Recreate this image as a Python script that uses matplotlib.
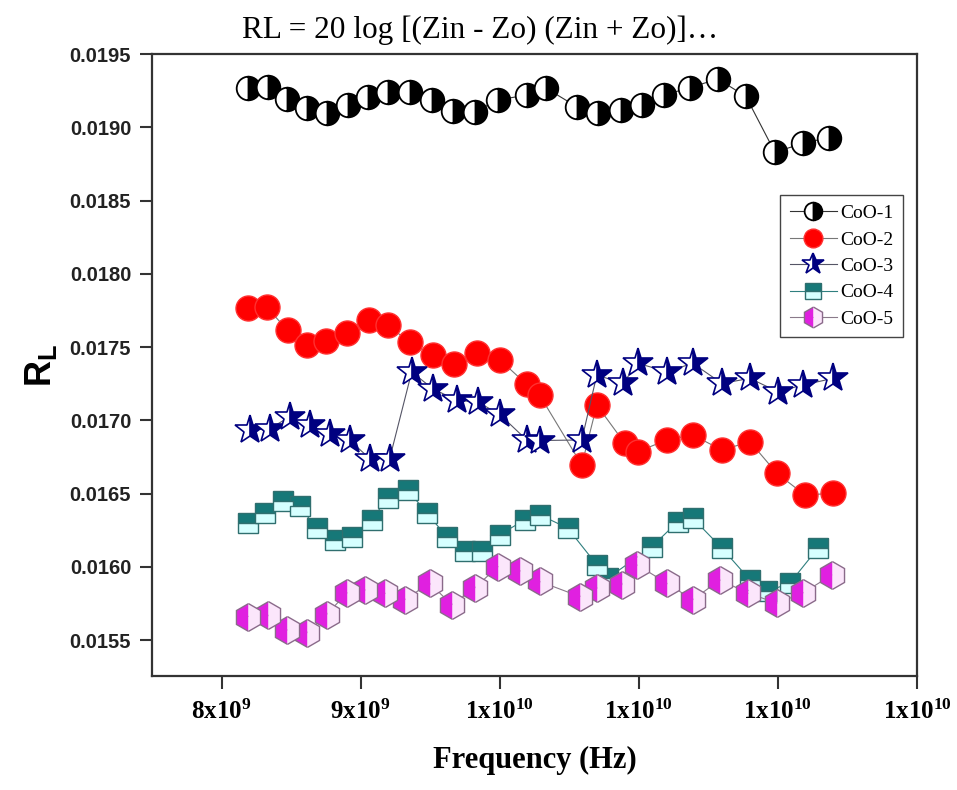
import matplotlib
matplotlib.use("Agg")
import matplotlib.pyplot as plt
from matplotlib.ticker import FixedLocator, FixedFormatter

plt.rcParams['mathtext.fontset'] = 'custom'
plt.rcParams['mathtext.bf'] = 'Liberation Serif:bold'
plt.rcParams['mathtext.sf'] = 'Liberation Sans:bold'

# frequency in GHz
f1 = [8.187, 8.331, 8.468, 8.612, 8.755, 8.906, 9.050, 9.194, 9.353, 9.511, 9.662, 9.820, 9.986,
      10.194, 10.331, 10.554, 10.705, 10.871, 11.022, 11.180, 11.367, 11.568, 11.770, 11.978, 12.180, 12.367]
rl1 = [0.019268, 0.019275, 0.019193, 0.019132, 0.019098, 0.019152, 0.019207, 0.019241, 0.019241,
       0.019186, 0.019111, 0.019104, 0.019186, 0.019220, 0.019268, 0.019140, 0.019100, 0.019120,
       0.019150, 0.019220, 0.019270, 0.019330, 0.019210, 0.018830, 0.018890, 0.018930]

f2 = [8.187, 8.324, 8.475, 8.612, 8.748, 8.899, 9.058, 9.194, 9.353, 9.518, 9.669, 9.835, 10.0,
      10.194, 10.288, 10.590, 10.698, 10.899, 10.993, 11.201, 11.388, 11.597, 11.799, 11.993, 12.194, 12.396]
rl2 = [0.017768, 0.017773, 0.017614, 0.017511, 0.017541, 0.017598, 0.017686, 0.017648, 0.017534,
       0.017443, 0.017386, 0.017459, 0.017414, 0.017245, 0.017170, 0.016695, 0.017104, 0.016843,
       0.016786, 0.016866, 0.016900, 0.016797, 0.016854, 0.016638, 0.016490, 0.016502]

f3 = [8.201, 8.345, 8.489, 8.633, 8.777, 8.921, 9.065, 9.209, 9.367, 9.518, 9.691, 9.842, 10.0,
      10.194, 10.288, 10.590, 10.698, 10.885, 10.993, 11.201, 11.388, 11.597, 11.799, 12.0, 12.180, 12.396]
rl3 = [0.016932, 0.016943, 0.017023, 0.016966, 0.016909, 0.016864, 0.016739, 0.016739, 0.017330,
       0.017216, 0.017136, 0.017125, 0.017040, 0.016866, 0.016862, 0.016866, 0.017309, 0.017252,
       0.017389, 0.017332, 0.017389, 0.017252, 0.017286, 0.017195, 0.017241, 0.017286]

f4 = [8.187, 8.309, 8.439, 8.561, 8.683, 8.813, 8.935, 9.079, 9.194, 9.338, 9.475, 9.619, 9.748, 9.871,
      10.0, 10.180, 10.288, 10.489, 10.698, 10.777, 11.094, 11.281, 11.388, 11.597, 11.799, 11.921, 12.086, 12.288]
rl4 = [0.016299, 0.016367, 0.016446, 0.016412, 0.016265, 0.016185, 0.016207, 0.016321, 0.016469,
       0.016526, 0.016367, 0.016207, 0.016105, 0.016105, 0.016219, 0.016321, 0.016355, 0.016264,
       0.016014, 0.015923, 0.016138, 0.016309, 0.016332, 0.016128, 0.015911, 0.015832, 0.015889, 0.016128]

f5 = [8.187, 8.331, 8.468, 8.612, 8.755, 8.899, 9.029, 9.173, 9.317, 9.496, 9.655, 9.820, 9.986,
      10.144, 10.288, 10.576, 10.698, 10.878, 10.986, 11.201, 11.388, 11.583, 11.784, 11.993, 12.180, 12.388]
rl5 = [0.015661, 0.015673, 0.015570, 0.015548, 0.015673, 0.015821, 0.015843, 0.015821, 0.015775,
       0.015889, 0.015741, 0.015855, 0.016002, 0.015975, 0.015900, 0.015797, 0.015855, 0.015877,
       0.016014, 0.015889, 0.015775, 0.015911, 0.015821, 0.015752, 0.015821, 0.015945]

labels = ['CoO-1', 'CoO-2', 'CoO-3', 'CoO-4', 'CoO-5']
xticks = [8e9, 9e9, 1e10, 1.1e10, 1.2e10, 1.3e10]
xticklabels = [r'$\mathbf{8x10^{9}}$', r'$\mathbf{9x10^{9}}$', r'$\mathbf{1x10^{10}}$',
               r'$\mathbf{1x10^{10}}$', r'$\mathbf{1x10^{10}}$', r'$\mathbf{1x10^{10}}$']
yticks = [0.0155, 0.0160, 0.0165, 0.0170, 0.0175, 0.0180, 0.0185, 0.0190, 0.0195]

fig = plt.figure(figsize=(9.57, 7.9), dpi=100)
ax = fig.add_axes([152/957, 1 - 676/790, 765/957, 622/790])

def hz(f):
    return [v * 1e9 for v in f]

ax.plot(hz(f1), rl1, '-', color='#333333', lw=0.8, marker='o', ms=17, fillstyle='right',
        mfc='black', mfcalt='white', mec='black', mew=1.3, label=labels[0])
ax.plot(hz(f2), rl2, '-', color='#777777', lw=0.8, marker='o', ms=18,
        mfc='#ff0000', mec='#ff3030', mew=1.0, label=labels[1])
ax.plot(hz(f3), rl3, '-', color='#555566', lw=0.8, marker='*', ms=22, fillstyle='right',
        mfc='#000080', mfcalt='white', mec='#000080', mew=1.2, label=labels[2])
ax.plot(hz(f4), rl4, '-', color='#2f7f7f', lw=0.8, marker='s', ms=15, fillstyle='top',
        mfc='#167878', mfcalt='#d6ffff', mec='#2f6f6f', mew=1.0, label=labels[3])
ax.plot(hz(f5), rl5, '-', color='#8a7a8a', lw=0.8, marker='h', ms=20, fillstyle='left',
        mfc='#e020e0', mfcalt='#fbe6fb', mec='#8a6a8a', mew=1.0, label=labels[4])

ax.set_xlim(7.5e9, 1.3e10)
ax.set_ylim(0.015255, 0.0195)
ax.xaxis.set_major_locator(FixedLocator(xticks))
ax.xaxis.set_major_formatter(FixedFormatter(xticklabels))
ax.set_yticks(yticks)
ax.set_yticklabels(['%.4f' % v for v in yticks], family='Liberation Sans', weight='bold',
                   fontsize=14.5, color='#222222')
for t in ax.get_xticklabels():
    t.set_fontsize(18)
ax.tick_params(axis='both', direction='out', length=9, width=1.5, color='#333333')
ax.tick_params(axis='x', pad=8)
ax.tick_params(axis='y', pad=6)
for s in ax.spines.values():
    s.set_linewidth(1.6)
    s.set_color('#333333')

ax.set_xlabel('Frequency (Hz)', family='Liberation Serif', weight='bold', fontsize=22, labelpad=16)
ax.set_ylabel(r'$\mathsf{R_L}$', fontsize=26, labelpad=8)

fig.text(0.502, 0.962, 'RL = 20 log [(Zin - Zo) (Zin + Zo)]…', ha='center', va='center',
         family='Liberation Serif', fontsize=22.5)

leg = ax.legend(loc='upper right', bbox_to_anchor=(0.995, 0.789), prop={'family': 'Liberation Serif', 'size': 14},
                fancybox=False, framealpha=1, edgecolor='#444444', handlelength=2.4,
                handletextpad=0.2, labelspacing=0.45, borderpad=0.5, markerscale=0.75)
leg.get_frame().set_linewidth(1.0)

fig.savefig('out.png', dpi=100)
